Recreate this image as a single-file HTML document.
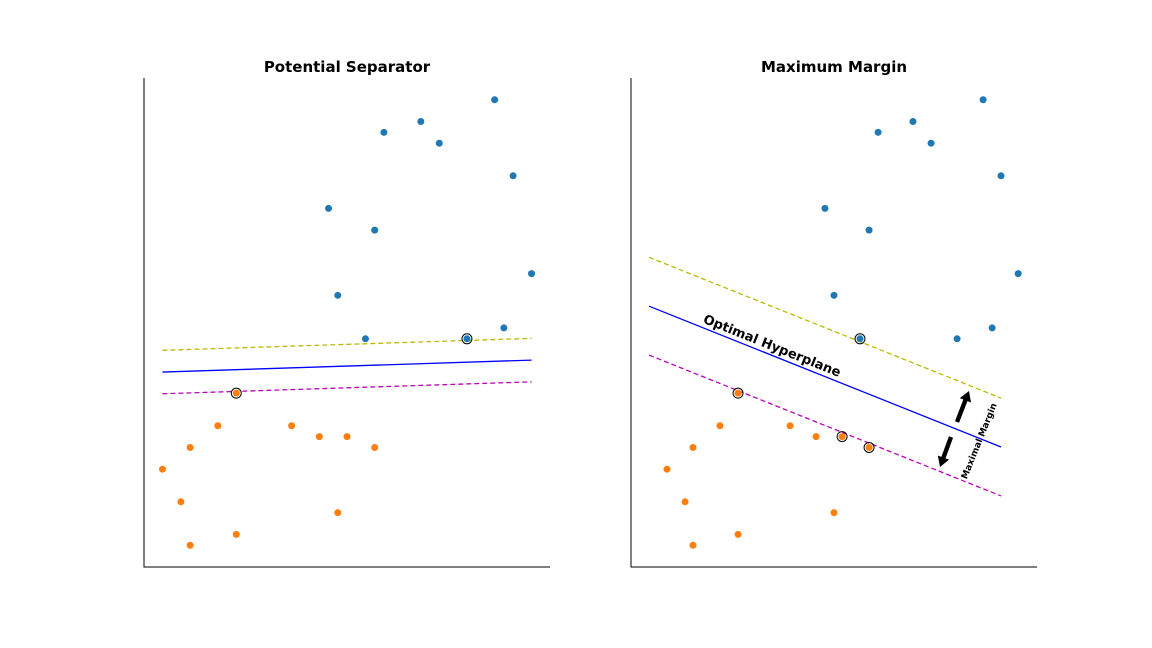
<!DOCTYPE html>
<html><head><meta charset="utf-8"><style>body{margin:0;background:#fff}svg{display:block;font-family:"DejaVu Sans","Liberation Sans",sans-serif}</style></head>
<body>
<svg id="c" width="1152" height="648"></svg>
<script>
const leftBlueX=[19,13,15,16,20,10,12.5,21,10.5,12,17.5,19.5];
const leftBlueY=[43,40,41,39,36,33,31,27,25,21,21,22];
const leftOrangeX=[5,4,8,9.5,11,12.5,2.5,1,2,10.5,5,2.5];
const leftOrangeY=[16,13,13,12,12,11,11,9,6,5,3,2];
const leftSV=[[5,16],[17.5,21]];
const leftLine=[[1,17.94],[21,19.04]];
const rightBlueX=[19.08,13.39,15.28,16.26,20.05,10.51,12.9,20.98,11.0,12.41,17.67,19.57];
const rightBlueY=[43,40,41,39,36,33,31,27,25,21,21,22];
const rightOrangeX=[5.8,4.82,8.62,10.03,11.44,12.9,3.36,1.95,2.93,11.0,5.8,3.36];
const rightOrangeY=[16,13,13,12,12,11,11,9,6,5,3,2];
const rightSV=[[5.8,16],[11.44,12],[12.9,11],[12.41,21]];
const rightLine=[[0.98,24.0],[20.05,11.04]];
const margins=[2,4.5];
const titles=["Potential Separator","Maximum Margin"];
const svg=document.getElementById('c');const NS='http://www.w3.org/2000/svg';
function mk(t,a,p){const e=document.createElementNS(NS,t);for(const k in a)e.setAttribute(k,a[k]);(p||svg).appendChild(e);return e;}
const panels=[{x0:144,bx:leftBlueX,by:leftBlueY,ox:leftOrangeX,oy:leftOrangeY,sv:leftSV,ln:leftLine,m:margins[0]},
{x0:631,bx:rightBlueX,by:rightBlueY,ox:rightOrangeX,oy:rightOrangeY,sv:rightSV,ln:rightLine,m:margins[1]}];
panels.forEach((P,i)=>{
 const g=mk('g',{});
 
 
 const X=v=>P.x0+v*406/22, Y=v=>567-v*489/45;
 const ax=mk('path',{d:`M${P.x0} 78V567H${P.x0+406}`,stroke:'#000',fill:'none','stroke-width':1},g);
 
 const t=mk('text',{x:P.x0+203,y:72,'text-anchor':'middle','font-size':15,'font-weight':'bold'},g);t.textContent=titles[i];
 
 [[P.m,'#bbbb00','5,3'],[0,'#0000ff',''],[-P.m,'#bb00bb','5,3']].forEach(([d,c,da])=>{
  const l=mk('line',{x1:X(P.ln[0][0]),y1:Y(P.ln[0][1]+d),x2:X(P.ln[1][0]),y2:Y(P.ln[1][1]+d),stroke:c,'stroke-width':1.3,'stroke-dasharray':da},g);
  
 });
 P.sv.forEach(([a,b])=>{const c=mk('circle',{cx:X(a),cy:Y(b),r:5,fill:'none',stroke:'#000','stroke-width':1},g);
  });
 P.bx.forEach((v,k)=>{const c=mk('circle',{cx:X(v),cy:Y(P.by[k]),r:3.5,fill:'#1f77b4'},g);
  });
 P.ox.forEach((v,k)=>{const c=mk('circle',{cx:X(v),cy:Y(P.oy[k]),r:3.5,fill:'#ff7f0e'},g);
  });
 if(i===1){
  const a=mk('text',{x:772,y:350,'text-anchor':'middle','font-size':13,'font-weight':'bold',transform:'rotate(21.8 772 346)'},g);a.textContent='Optimal Hyperplane';
  
  const b=mk('text',{x:979,y:444,'text-anchor':'middle','font-size':9,'font-weight':'bold',transform:'rotate(-68 979 441)'},g);b.textContent='Maximal Margin';
  
  [[957,422,969,391],[951,437,940,467]].forEach(([x1,y1,x2,y2])=>{
   const ang=Math.atan2(y2-y1,x2-x1),L=Math.hypot(x2-x1,y2-y1);
   const ar=mk('path',{d:`M0 -2.2L${L-10} -2.2L${L-10} -6L${L} 0L${L-10} 6L${L-10} 2.2L0 2.2Z`,fill:'#000',transform:`translate(${x1} ${y1}) rotate(${ang*180/Math.PI})`},g);
   
  });
 }
});
</script>
</body></html>
